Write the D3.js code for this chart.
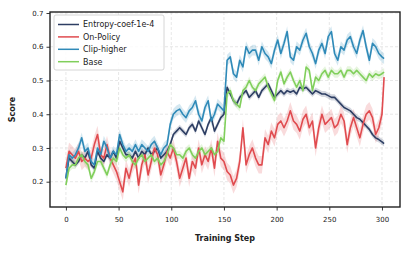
<!DOCTYPE html>
<html lang="en">
<head>
    <meta charset="UTF-8">
    <title>Score vs Training Step</title>
    <script src="https://d3js.org/d3.v7.min.js"></script>
    <style>
        body { margin: 0; background: #fff; }
        text { font-family: "DejaVu Sans", sans-serif; fill: #222; }
        .grid line { stroke: #ddd; stroke-dasharray: 3,2; stroke-width: 0.7; }
    </style>
</head>
<body>
<div id="chart"></div>
<script>
    // training steps (every 3rd step, plus the final one)
    const steps = d3.range(0, 301, 3).concat([302]);

    const seriesNames = ["Entropy-coef-1e-4", "On-Policy", "Clip-higher", "Base"];
    const colors = ["#2d3e63", "#e04b4f", "#2f8ab8", "#80cf5b"];
    // half-width of shaded band per series
    const spread = [0.009, 0.026, 0.016, 0.012];

    const entropy = [
        0.21, 0.27, 0.26, 0.25, 0.26, 0.28, 0.27, 0.29, 0.25, 0.24,
        0.29, 0.27, 0.26, 0.28, 0.27, 0.29, 0.27, 0.32, 0.30, 0.28,
        0.28, 0.27, 0.29, 0.27, 0.29, 0.28, 0.30, 0.28, 0.29, 0.30,
        0.27, 0.28, 0.29, 0.31, 0.34, 0.35, 0.36, 0.35, 0.34, 0.36,
        0.37, 0.35, 0.38, 0.36, 0.34, 0.37, 0.39, 0.35, 0.37, 0.39,
        0.40, 0.48, 0.46, 0.44, 0.43, 0.45, 0.46, 0.47, 0.45, 0.46,
        0.47, 0.45, 0.47, 0.48, 0.49, 0.47, 0.45, 0.46, 0.47, 0.46,
        0.47, 0.465, 0.47, 0.46, 0.48, 0.475, 0.48, 0.47, 0.46, 0.47,
        0.465, 0.46, 0.46, 0.455, 0.45, 0.45, 0.44, 0.43, 0.42, 0.415,
        0.41, 0.40, 0.39, 0.385, 0.375, 0.365, 0.355, 0.34, 0.33, 0.325,
        0.318, 0.313
    ];

    const onPolicy = [
        0.24, 0.29, 0.28, 0.27, 0.29, 0.26, 0.27, 0.26, 0.27, 0.31,
        0.34, 0.28, 0.27, 0.31, 0.27, 0.25, 0.23, 0.20, 0.17, 0.24,
        0.21, 0.25, 0.27, 0.19, 0.25, 0.28, 0.22, 0.26, 0.30, 0.28,
        0.22, 0.25, 0.29, 0.27, 0.30, 0.26, 0.21, 0.24, 0.27, 0.21,
        0.26, 0.24, 0.30, 0.25, 0.28, 0.26, 0.30, 0.24, 0.32, 0.27,
        0.26, 0.23, 0.22, 0.19, 0.21, 0.26, 0.36, 0.25, 0.28, 0.30,
        0.27, 0.25, 0.25, 0.33, 0.31, 0.35, 0.33, 0.37, 0.38, 0.36,
        0.38, 0.41, 0.38, 0.37, 0.35, 0.385, 0.40, 0.36, 0.38, 0.30,
        0.36, 0.40, 0.37, 0.38, 0.39, 0.36, 0.37, 0.40, 0.38, 0.31,
        0.36, 0.39, 0.36, 0.33, 0.37, 0.40, 0.41, 0.39, 0.34, 0.36,
        0.40, 0.51
    ];

    const clipHigher = [
        0.21, 0.28, 0.27, 0.28, 0.30, 0.33, 0.29, 0.30, 0.26, 0.25,
        0.30, 0.28, 0.32, 0.30, 0.27, 0.29, 0.28, 0.34, 0.31, 0.29,
        0.30, 0.29, 0.31, 0.29, 0.31, 0.30, 0.29, 0.31, 0.32, 0.30,
        0.28, 0.30, 0.31, 0.37, 0.40, 0.41, 0.415, 0.40, 0.39, 0.41,
        0.42, 0.44, 0.40, 0.38, 0.42, 0.44, 0.38, 0.40, 0.43, 0.42,
        0.41, 0.56, 0.57, 0.52, 0.51, 0.56, 0.54, 0.60, 0.58, 0.59,
        0.59, 0.56, 0.60, 0.58, 0.57, 0.55, 0.59, 0.62, 0.58, 0.61,
        0.645, 0.57, 0.56, 0.60, 0.59, 0.62, 0.64, 0.60, 0.58, 0.55,
        0.59, 0.61, 0.58, 0.63, 0.645, 0.58, 0.56, 0.60, 0.59, 0.62,
        0.63, 0.60, 0.58, 0.62, 0.648, 0.60, 0.56, 0.61, 0.60, 0.58,
        0.57, 0.565
    ];

    const base = [
        0.19, 0.24, 0.25, 0.25, 0.27, 0.28, 0.26, 0.25, 0.21, 0.23,
        0.26, 0.26, 0.24, 0.22, 0.25, 0.27, 0.26, 0.30, 0.28, 0.27,
        0.28, 0.26, 0.25, 0.27, 0.28, 0.26, 0.27, 0.28, 0.26, 0.27,
        0.25, 0.26, 0.28, 0.31, 0.30, 0.28, 0.28, 0.27, 0.29, 0.30,
        0.28, 0.27, 0.29, 0.30, 0.28, 0.29, 0.30, 0.28, 0.29, 0.33,
        0.32, 0.46, 0.47, 0.44, 0.43, 0.42, 0.47, 0.48, 0.50, 0.48,
        0.47, 0.49, 0.50, 0.51, 0.48, 0.46, 0.44, 0.50, 0.525, 0.49,
        0.51, 0.525, 0.50, 0.48, 0.50, 0.47, 0.54, 0.53, 0.47, 0.51,
        0.50, 0.52, 0.53, 0.51, 0.53, 0.52, 0.52, 0.53, 0.51, 0.53,
        0.53, 0.52, 0.53, 0.52, 0.51, 0.50, 0.52, 0.51, 0.52, 0.515,
        0.52, 0.525
    ];

    const allSeries = [entropy, onPolicy, clipHigher, base];

    const xTicks = [0, 50, 100, 150, 200, 250, 300];
    const yTicks = [0.2, 0.3, 0.4, 0.5, 0.6, 0.7];

    const width = 411, height = 253;
    const margin = {top: 12, right: 11, bottom: 46, left: 50};

    const svg = d3.select("#chart").append("svg")
        .attr("width", width)
        .attr("height", height);

    const x = d3.scaleLinear()
        .domain([-15.1, 317.1])
        .range([margin.left, width - margin.right]);

    const y = d3.scaleLinear()
        .domain([0.125, 0.703])
        .range([height - margin.bottom, margin.top]);

    // grid lines
    const grid = svg.append("g").attr("class", "grid");
    grid.selectAll(".gx").data(xTicks).enter().append("line")
        .attr("x1", d => x(d)).attr("x2", d => x(d))
        .attr("y1", margin.top).attr("y2", height - margin.bottom);
    grid.selectAll(".gy").data(yTicks).enter().append("line")
        .attr("y1", d => y(d)).attr("y2", d => y(d))
        .attr("x1", margin.left).attr("x2", width - margin.right);

    // bands and lines
    const area = k => d3.area()
        .x((d, i) => x(steps[i]))
        .y0(d => y(d - spread[k]))
        .y1(d => y(d + spread[k]));
    const line = d3.line()
        .x((d, i) => x(steps[i]))
        .y(d => y(d));

    allSeries.forEach((s, k) => {
        svg.append("path")
            .datum(s)
            .attr("d", area(k))
            .attr("fill", colors[k])
            .attr("opacity", 0.2);
    });
    allSeries.forEach((s, k) => {
        svg.append("path")
            .datum(s)
            .attr("d", line)
            .attr("fill", "none")
            .attr("stroke", colors[k])
            .attr("stroke-width", 1.6)
            .attr("stroke-linejoin", "round");
    });

    // axes
    const xAxis = svg.append("g")
        .attr("transform", `translate(0,${height - margin.bottom})`)
        .call(d3.axisBottom(x).tickValues(xTicks).tickSize(3.5).tickPadding(3).tickFormat(d3.format("d")));
    const yAxis = svg.append("g")
        .attr("transform", `translate(${margin.left},0)`)
        .call(d3.axisLeft(y).tickValues(yTicks).tickSize(3.5).tickPadding(3).tickFormat(d3.format(".1f")));
    [xAxis, yAxis].forEach(a => {
        a.select(".domain").remove();
        a.selectAll(".tick line").attr("stroke", "#222").attr("stroke-width", 0.9);
        a.selectAll(".tick text").attr("font-size", 7).attr("fill", "#222")
            .style("font-family", "DejaVu Sans, sans-serif");
    });
    xAxis.selectAll(".tick text").attr("dy", "1.2em");

    // frame
    svg.append("rect")
        .attr("x", margin.left).attr("y", margin.top)
        .attr("width", width - margin.left - margin.right)
        .attr("height", height - margin.top - margin.bottom)
        .attr("fill", "none")
        .attr("stroke", "#222")
        .attr("stroke-width", 1.4);

    // axis titles
    svg.append("text")
        .attr("x", (margin.left + width - margin.right) / 2)
        .attr("y", 241)
        .attr("text-anchor", "middle")
        .attr("font-size", 8)
        .attr("font-weight", "bold")
        .text("Training Step");
    svg.append("text")
        .attr("transform", `translate(15,${(margin.top + height - margin.bottom) / 2}) rotate(-90)`)
        .attr("text-anchor", "middle")
        .attr("font-size", 8)
        .attr("font-weight", "bold")
        .text("Score");

    // legend
    const legend = svg.append("g").attr("transform", "translate(54,15)");
    legend.append("rect")
        .attr("width", 110).attr("height", 55)
        .attr("rx", 2)
        .attr("fill", "#fff").attr("fill-opacity", 0.85)
        .attr("stroke", "#ccc").attr("stroke-width", 0.8);
    seriesNames.forEach((name, k) => {
        const yy = 9.5 + k * 12.4;
        legend.append("line")
            .attr("x1", 4).attr("x2", 25)
            .attr("y1", yy).attr("y2", yy)
            .attr("stroke", colors[k]).attr("stroke-width", 1.5);
        legend.append("text")
            .attr("x", 29).attr("y", yy)
            .attr("dy", "0.35em")
            .attr("font-size", 8)
            .text(name);
    });
</script>
</body>
</html>
